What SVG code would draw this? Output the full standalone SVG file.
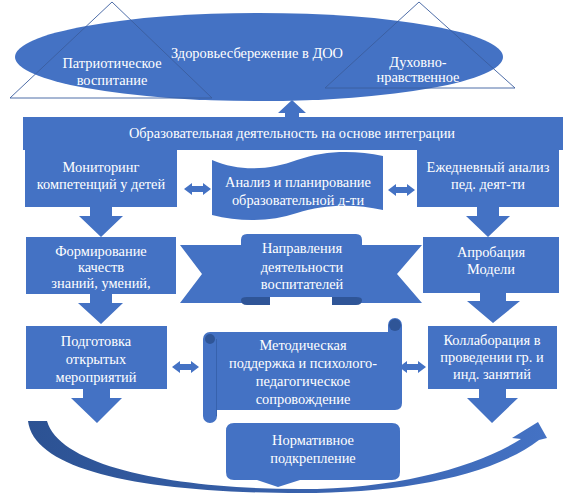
<svg xmlns="http://www.w3.org/2000/svg" width="577" height="501" viewBox="0 0 577 501">
<defs>
<style>
.s{fill:#4472c4}
.d{fill:#2f5597}
.t{font-family:"Liberation Serif","Times New Roman",serif;font-size:14.4px;fill:#ffffff;text-anchor:middle}
.tri{fill:none;stroke:#3b5d9e;stroke-width:0.9}
</style>
<linearGradient id="cg" x1="0" y1="0" x2="1" y2="0">
<stop offset="0" stop-color="#2c5293"/>
<stop offset="0.6" stop-color="#3a64b0"/>
<stop offset="1" stop-color="#4472c4"/>
</linearGradient>
</defs>
<rect width="577" height="501" fill="#ffffff"/>

<g id="ellipse-top">
<ellipse class="s" cx="259" cy="57" rx="244" ry="44"/>
<polygon class="tri" points="112,2 10,98 212,98"/>
<polygon class="tri" points="419,2 325,88 515,88"/>
<text class="t" x="257" y="58">Здоровьесбережение в ДОО</text>
<text class="t" x="112" y="68">Патриотическое</text>
<text class="t" x="112" y="85">воспитание</text>
<text class="t" x="418" y="67">Духовно-</text>
<text class="t" x="418" y="82">нравственное</text>
</g>

<g id="bar">
<rect class="s" x="23" y="117" width="540" height="33"/>
<text class="t" x="292" y="138">Образовательная деятельность на основе интеграции</text>
</g>

<g id="monitoring">
<rect class="s" x="25" y="150" width="152" height="57"/>
<text class="t" x="101" y="172">Мониторинг</text>
<text class="t" x="101" y="189">компетенций у детей</text>
</g>

<g id="analysis">
<path class="s" d="M212,160 C240,172 270,170 297,160 C325,150 355,150 383,156 L383,210 C355,204 325,204 297,213 C270,222 240,222 212,215 Z"/>
<text class="t" x="298" y="187">Анализ и планирование</text>
<text class="t" x="298" y="205">образовательной д-ти</text>
</g>

<g id="daily">
<rect class="s" x="417" y="150" width="142" height="57"/>
<text class="t" x="488" y="172">Ежедневный анализ</text>
<text class="t" x="488" y="189">пед. деят-ти</text>
</g>

<g id="forming">
<rect class="s" x="26" y="237" width="150" height="57"/>
<text class="t" x="101" y="256">Формирование</text>
<text class="t" x="101" y="272">качеств</text>
<text class="t" x="101" y="288">знаний, умений,</text>
</g>

<g id="directions">
<polygon class="s" points="180,245 252,245 252,303 180,303 202,274"/>
<polygon class="s" points="422,245 350,245 350,303 422,303 397,274"/>
<path class="d" d="M241,296 L270,296 L270,305 L247,305 Q241,305 241,300 Z"/>
<path class="d" d="M332,296 L362,296 L362,300 Q362,305 356,305 L332,305 Z"/>
<path class="s" d="M241,240 Q241,234 247,234 L356,234 Q362,234 362,240 L362,300 Q362,297 356,297 L247,297 Q241,297 241,300 Z"/>
<text class="t" x="302" y="253">Направления</text>
<text class="t" x="302" y="272">деятельности</text>
<text class="t" x="302" y="289">воспитателей</text>
</g>

<g id="approbation">
<rect class="s" x="423" y="237" width="136" height="56"/>
<text class="t" x="491" y="257">Апробация</text>
<text class="t" x="491" y="274">Модели</text>
</g>

<g id="open-events">
<rect class="s" x="26" y="326" width="141" height="63"/>
<text class="t" x="96" y="346">Подготовка</text>
<text class="t" x="96" y="364">открытых</text>
<text class="t" x="96" y="382">мероприятий</text>
</g>

<g id="method">
<path class="s" d="M210,332 L388,332 L388,325 A7,7 0 0 1 402,325 L402,403 Q402,410 395,410 L217,410 L217,416 A7,7 0 0 1 203,416 L203,339 A7,7 0 0 1 210,332 Z"/>
<circle class="d" cx="395" cy="325" r="6"/>
<circle class="d" cx="210" cy="339" r="5"/>
<line x1="216.5" y1="339" x2="216.5" y2="416" stroke="#3762ad" stroke-width="1"/>
<text class="t" x="303" y="350">Методическая</text>
<text class="t" x="303" y="368">поддержка и психолого-</text>
<text class="t" x="303" y="386">педагогическое</text>
<text class="t" x="303" y="404">сопровождение</text>
</g>

<g id="collab">
<rect class="s" x="428" y="326" width="129" height="63"/>
<text class="t" x="492" y="345">Коллаборация в</text>
<text class="t" x="492" y="362">проведении гр. и</text>
<text class="t" x="492" y="379">инд. занятий</text>
</g>

<g id="normative">
<path class="s" d="M234,423 L392,423 Q400,423 400,431 L400,472 Q400,480 392,480 L300,480 L278,487 L257,480 L234,480 Q226,480 226,472 L226,431 Q226,423 234,423 Z"/>
<text class="t" x="313" y="445">Нормативное</text>
<text class="t" x="313" y="463">подкрепление</text>
</g>

<g id="connectors">
<polygon class="s" points="285,117 285,113 278,113 292,100 306,113 299,113 299,117"/>
<path class="s" d="M184,189 L192,183 L192,186 L203,186 L203,183 L211,189 L203,195 L203,192 L192,192 L192,195 Z"/>
<path class="s" d="M388,190 L396,184 L396,187 L407,187 L407,184 L415,190 L407,196 L407,193 L396,193 L396,196 Z"/>
<path class="s" d="M172,367 L180,361 L180,364 L191,364 L191,361 L199,367 L191,373 L191,370 L180,370 L180,373 Z"/>
<path class="s" d="M399,367 L407,361 L407,364 L418,364 L418,361 L426,367 L418,373 L418,370 L407,370 L407,373 Z"/>
<polygon class="s" points="90,207 112,207 112,216 123,216 101,237 79,216 90,216"/>
<polygon class="s" points="90,294 112,294 112,303 123,303 101,324 78,303 90,303"/>
<polygon class="s" points="83,389 110,389 110,398 122,398 97,423 71,398 83,398"/>
<polygon class="s" points="477,207 499,207 499,216 510,216 488,237 466,216 477,216"/>
<polygon class="s" points="480,293 506,293 506,301 520,301 493,323 467,301 480,301"/>
<polygon class="s" points="479,389 506,389 506,398 518,398 492,423 467,398 479,398"/>
<path fill="url(#cg)" d="M28,421 L47,421 C60,468 180,489 300,489 C400,489 478,466 521,439 L512,438 L538,422 L547,438 L539,440 C492,476 402,493 300,493 C140,493 34,470 28,421 Z"/>
</g>
</svg>
